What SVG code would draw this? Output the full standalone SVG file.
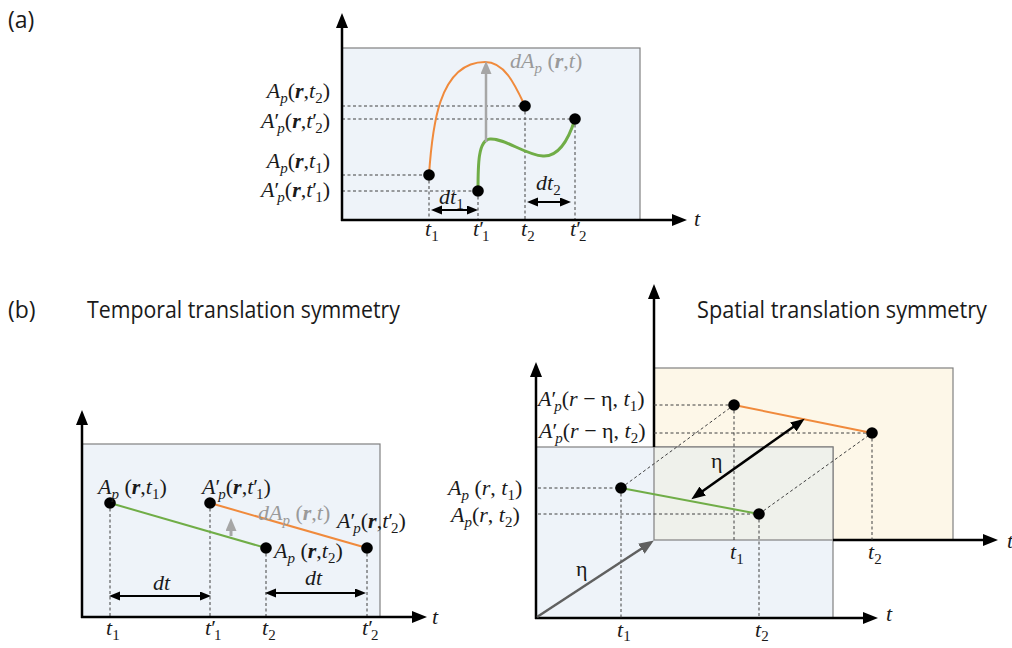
<svg xmlns="http://www.w3.org/2000/svg" width="1012" height="648" viewBox="0 0 1012 648">
<style>
.ax{stroke:#000;stroke-width:2.5;fill:none}
.frame{stroke:#808080;stroke-width:1.2}
.dash{stroke:#404040;stroke-width:1;stroke-dasharray:3 2.5;fill:none}
.m{font-family:"Liberation Serif",serif;font-style:italic;font-size:22px;fill:#1a1a1a}
.g{fill:#9a9a9a}
.s{font-size:15px}
.b{font-weight:bold}
.up{font-style:normal}
.title{font-family:"Open Sans","Liberation Sans",sans-serif;font-size:23px;fill:#1a1a1a}
.dot{fill:#000}
.or{stroke:#f08a3c;stroke-width:2;fill:none}
.gr{stroke:#70ad47;stroke-width:2;fill:none}
.gr3{stroke:#70ad47;stroke-width:3;fill:none}
</style>
<defs>
<marker id="ah" markerUnits="userSpaceOnUse" markerWidth="16" markerHeight="14" refX="10" refY="6" orient="auto"><path d="M0,0 L15,6 L0,12 z" fill="#000"/></marker>
<marker id="as" markerUnits="userSpaceOnUse" markerWidth="12" markerHeight="10" refX="7" refY="4.5" orient="auto-start-reverse"><path d="M0,0 L11,4.5 L0,9 z" fill="#000"/></marker>
<marker id="am" markerUnits="userSpaceOnUse" markerWidth="15" markerHeight="12" refX="9" refY="5.5" orient="auto-start-reverse"><path d="M0,0 L14,5.5 L0,11 z" fill="#000"/></marker>
<marker id="ag" markerUnits="userSpaceOnUse" markerWidth="14" markerHeight="12" refX="8" refY="5.5" orient="auto"><path d="M0,0 L13,5.5 L0,11 z" fill="#a6a6a6"/></marker>
<marker id="agd" markerUnits="userSpaceOnUse" markerWidth="16" markerHeight="14" refX="10" refY="6" orient="auto"><path d="M0,0 L15,6 L0,12 z" fill="#606060"/></marker>
</defs>
<rect width="1012" height="648" fill="#fff"/>

<g id="titles">
<text class="title" x="8" y="28">(a)</text>
<text class="title" x="8" y="318">(b)</text>
<text class="title" x="87" y="318" textLength="313" lengthAdjust="spacingAndGlyphs">Temporal translation symmetry</text>
<text class="title" x="697" y="318" textLength="290" lengthAdjust="spacingAndGlyphs">Spatial translation symmetry</text>
</g>

<!-- ===== Panel (a) ===== -->
<g id="panel-a-frame">
<rect x="342" y="48" width="298" height="172" fill="#eef3f9" class="frame"/>
</g>
<g id="panel-a-connectors">
<path class="dash" d="M342,106H525 M342,119H575 M342,175H429 M342,191H478 M429,175V220 M478,191V220 M525,106V220 M575,119V220"/>
<path class="or" d="M429,175 C432,130 438,62 485,62 C505,62 515,85 525,106"/>
<path class="gr3" d="M478,191 C478,165 478,140 490,139 C505,138 525,155 543,156 C560,157 570,135 575,119"/>
<line x1="486" y1="142" x2="486" y2="66" stroke="#a6a6a6" stroke-width="2.5" marker-end="url(#ag)"/>
<line x1="435" y1="210" x2="474" y2="210" stroke="#000" stroke-width="2" marker-start="url(#as)" marker-end="url(#as)"/>
<line x1="531" y1="202" x2="567" y2="202" stroke="#000" stroke-width="2" marker-start="url(#as)" marker-end="url(#as)"/>
<line class="ax" x1="342" y1="221" x2="342" y2="18" marker-end="url(#ah)"/>
<line class="ax" x1="341" y1="220" x2="682" y2="220" marker-end="url(#ah)"/>
</g>
<g id="a-p1"><circle class="dot" cx="429" cy="175" r="5.8"/></g>
<g id="a-p2"><circle class="dot" cx="478" cy="191" r="5.8"/></g>
<g id="a-p3"><circle class="dot" cx="525" cy="106" r="5.8"/></g>
<g id="a-p4"><circle class="dot" cx="575" cy="119" r="5.8"/></g>
<g id="panel-a-labels">
<text class="m" x="330" y="98" text-anchor="end">A<tspan class="s" dy="5">p</tspan><tspan class="up" dy="-5">(</tspan><tspan class="b">r</tspan><tspan class="up">,</tspan>t<tspan class="s up" dy="5">2</tspan><tspan class="up" dy="-5">)</tspan></text>
<text class="m" x="330" y="128" text-anchor="end">A<tspan class="up">′</tspan><tspan class="s" dx="-2" dy="5">p</tspan><tspan class="up" dy="-5">(</tspan><tspan class="b">r</tspan><tspan class="up">,</tspan>t<tspan class="up">′</tspan><tspan class="s up" dx="-2" dy="5">2</tspan><tspan class="up" dy="-5">)</tspan></text>
<text class="m" x="330" y="168" text-anchor="end">A<tspan class="s" dy="5">p</tspan><tspan class="up" dy="-5">(</tspan><tspan class="b">r</tspan><tspan class="up">,</tspan>t<tspan class="s up" dy="5">1</tspan><tspan class="up" dy="-5">)</tspan></text>
<text class="m" x="330" y="197" text-anchor="end">A<tspan class="up">′</tspan><tspan class="s" dx="-2" dy="5">p</tspan><tspan class="up" dy="-5">(</tspan><tspan class="b">r</tspan><tspan class="up">,</tspan>t<tspan class="up">′</tspan><tspan class="s up" dx="-2" dy="5">1</tspan><tspan class="up" dy="-5">)</tspan></text>
<text class="m g" x="510" y="68">dA<tspan class="s" dy="5">p</tspan><tspan class="up" dy="-5"> (</tspan><tspan class="b">r</tspan><tspan class="up">,</tspan>t<tspan class="up">)</tspan></text>
<text class="m" x="439" y="204">dt<tspan class="s up" dy="5">1</tspan></text>
<text class="m" x="536" y="190">dt<tspan class="s up" dy="5">2</tspan></text>
<text class="m" x="425" y="236">t<tspan class="s up" dy="5">1</tspan></text>
<text class="m" x="473" y="236">t<tspan class="up">′</tspan><tspan class="s up" dx="-2" dy="5">1</tspan></text>
<text class="m" x="521" y="236">t<tspan class="s up" dy="5">2</tspan></text>
<text class="m" x="570" y="236">t<tspan class="up">′</tspan><tspan class="s up" dx="-2" dy="5">2</tspan></text>
<text class="m" x="694" y="226">t</text>
</g>

<!-- ===== Panel (b) left ===== -->
<g id="panel-bl-frame">
<rect x="82" y="444" width="298" height="173" fill="#eef3f9" class="frame"/>
</g>
<g id="panel-bl-connectors">
<path class="dash" d="M110,503V617 M210,503V617 M266,548V617 M367,548V617"/>
<line class="gr" x1="110" y1="503" x2="266" y2="548"/>
<line class="or" x1="210" y1="503" x2="367" y2="548"/>
<line x1="231" y1="536" x2="231" y2="523" stroke="#a6a6a6" stroke-width="3" marker-end="url(#ag)"/>
<line x1="113" y1="596" x2="207" y2="596" stroke="#000" stroke-width="2" marker-start="url(#as)" marker-end="url(#as)"/>
<line x1="269" y1="593" x2="362" y2="593" stroke="#000" stroke-width="2" marker-start="url(#as)" marker-end="url(#as)"/>
<line class="ax" x1="82" y1="618" x2="82" y2="415" marker-end="url(#ah)"/>
<line class="ax" x1="81" y1="617" x2="422" y2="617" marker-end="url(#ah)"/>
</g>
<g id="bl-p1"><circle class="dot" cx="110" cy="503" r="5.8"/></g>
<g id="bl-p2"><circle class="dot" cx="210" cy="503" r="5.8"/></g>
<g id="bl-p3"><circle class="dot" cx="266" cy="548" r="5.8"/></g>
<g id="bl-p4"><circle class="dot" cx="367" cy="548" r="5.8"/></g>
<g id="panel-bl-labels">
<text class="m" x="98" y="494">A<tspan class="s" dy="5">p</tspan><tspan class="up" dy="-5"> (</tspan><tspan class="b">r</tspan><tspan class="up">,</tspan>t<tspan class="s up" dy="5">1</tspan><tspan class="up" dy="-5">)</tspan></text>
<text class="m" x="202" y="494">A<tspan class="up">′</tspan><tspan class="s" dx="-2" dy="5">p</tspan><tspan class="up" dy="-5">(</tspan><tspan class="b">r</tspan><tspan class="up">,</tspan>t<tspan class="up">′</tspan><tspan class="s up" dx="-2" dy="5">1</tspan><tspan class="up" dy="-5">)</tspan></text>
<text class="m g" x="258" y="520">dA<tspan class="s" dy="5">p</tspan><tspan class="up" dy="-5"> (</tspan><tspan class="b">r</tspan><tspan class="up">,</tspan>t<tspan class="up">)</tspan></text>
<text class="m" x="337" y="528">A<tspan class="up">′</tspan><tspan class="s" dx="-2" dy="5">p</tspan><tspan class="up" dy="-5">(</tspan><tspan class="b">r</tspan><tspan class="up">,</tspan>t<tspan class="up">′</tspan><tspan class="s up" dx="-2" dy="5">2</tspan><tspan class="up" dy="-5">)</tspan></text>
<text class="m" x="274" y="558">A<tspan class="s" dy="5">p</tspan><tspan class="up" dy="-5"> (</tspan><tspan class="b">r</tspan><tspan class="up">,</tspan>t<tspan class="s up" dy="5">2</tspan><tspan class="up" dy="-5">)</tspan></text>
<text class="m" x="153" y="590">dt</text>
<text class="m" x="305" y="585">dt</text>
<text class="m" x="106" y="635">t<tspan class="s up" dy="5">1</tspan></text>
<text class="m" x="205" y="635">t<tspan class="up">′</tspan><tspan class="s up" dx="-2" dy="5">1</tspan></text>
<text class="m" x="262" y="635">t<tspan class="s up" dy="5">2</tspan></text>
<text class="m" x="362" y="635">t<tspan class="up">′</tspan><tspan class="s up" dx="-2" dy="5">2</tspan></text>
<text class="m" x="432" y="624">t</text>
</g>

<!-- ===== Panel (b) right ===== -->
<g id="panel-br-frames">
<rect x="654" y="368" width="299" height="172" fill="#fdf7e8" class="frame"/>
<rect x="536" y="447" width="297" height="171" fill="#eef3f9" class="frame"/>
<rect x="654" y="447" width="179" height="93" fill="#eff1eb" stroke="#808080" stroke-width="1.2"/>
</g>
<g id="panel-br-connectors">
<line class="ax" x1="654" y1="447" x2="654" y2="289" marker-end="url(#ah)"/>
<line class="ax" x1="833" y1="540" x2="993" y2="540" marker-end="url(#ah)"/>
<line class="ax" x1="536" y1="619" x2="536" y2="367" marker-end="url(#ah)"/>
<line class="ax" x1="535" y1="618" x2="873" y2="618" marker-end="url(#ah)"/>
<path class="dash" d="M654,405H734 M654,433H872 M538,488H621 M538,514H759 M734,405V540 M872,433V540 M621,488V618 M759,514V618 M621,488L734,405 M759,514L872,433"/>
<line class="or" x1="734" y1="405" x2="872" y2="433"/>
<line class="gr" x1="621" y1="488" x2="759" y2="514"/>
<line x1="800.6" y1="421.7" x2="695.4" y2="496.3" stroke="#000" stroke-width="2.5" marker-start="url(#am)" marker-end="url(#am)"/>
<line x1="537" y1="617" x2="649.7" y2="543.2" stroke="#606060" stroke-width="2.5" marker-end="url(#agd)"/>
</g>
<g id="br-p1"><circle class="dot" cx="734" cy="405" r="5.8"/></g>
<g id="br-p2"><circle class="dot" cx="872" cy="433" r="5.8"/></g>
<g id="br-p3"><circle class="dot" cx="621" cy="488" r="5.8"/></g>
<g id="br-p4"><circle class="dot" cx="759" cy="514" r="5.8"/></g>
<g id="panel-br-labels">
<text class="m" x="538" y="406">A<tspan class="up">′</tspan><tspan class="s" dx="-2" dy="5">p</tspan><tspan class="up" dy="-5">(</tspan>r<tspan class="up"> − η, </tspan>t<tspan class="s up" dy="5">1</tspan><tspan class="up" dy="-5">)</tspan></text>
<text class="m" x="539" y="438">A<tspan class="up">′</tspan><tspan class="s" dx="-2" dy="5">p</tspan><tspan class="up" dy="-5">(</tspan>r<tspan class="up"> − η, </tspan>t<tspan class="s up" dy="5">2</tspan><tspan class="up" dy="-5">)</tspan></text>
<text class="m" x="448" y="495">A<tspan class="s" dy="5">p</tspan><tspan class="up" dy="-5"> (</tspan>r<tspan class="up">, </tspan>t<tspan class="s up" dy="5">1</tspan><tspan class="up" dy="-5">)</tspan></text>
<text class="m" x="451" y="522">A<tspan class="s" dy="5">p</tspan><tspan class="up" dy="-5">(</tspan>r<tspan class="up">, </tspan>t<tspan class="s up" dy="5">2</tspan><tspan class="up" dy="-5">)</tspan></text>
<text class="m up" x="711" y="468">η</text>
<text class="m up" x="576" y="576">η</text>
<text class="m" x="730" y="559">t<tspan class="s up" dy="5">1</tspan></text>
<text class="m" x="868" y="559">t<tspan class="s up" dy="5">2</tspan></text>
<text class="m" x="617" y="637">t<tspan class="s up" dy="4">1</tspan></text>
<text class="m" x="755" y="637">t<tspan class="s up" dy="4">2</tspan></text>
<text class="m" x="886" y="621">t</text>
<text class="m" x="1007" y="548">t</text>
</g>
</svg>
